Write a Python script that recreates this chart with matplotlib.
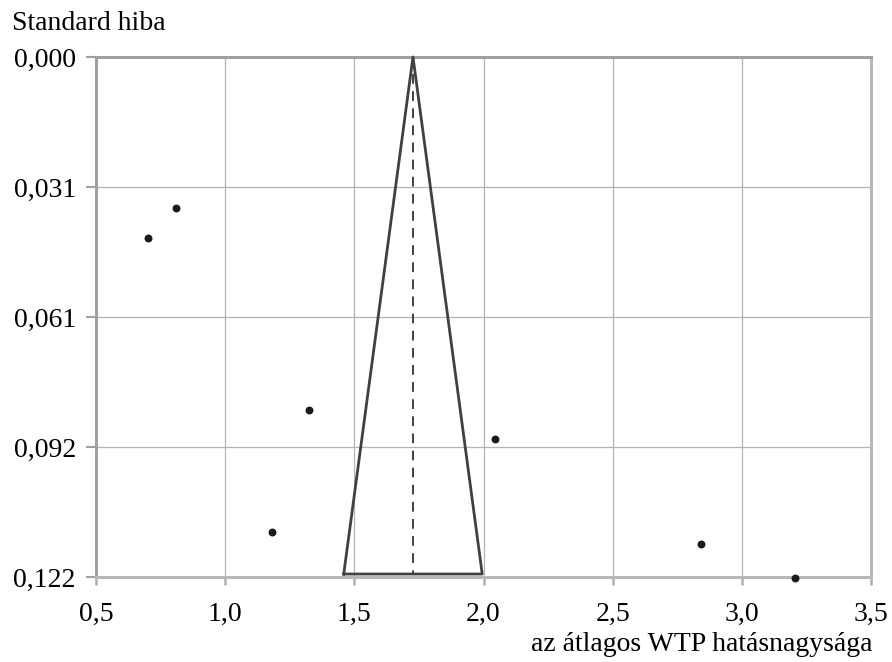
import numpy as np
import matplotlib.pyplot as plt

plt.rcParams['font.family'] = ['Liberation Serif', 'DejaVu Serif']

# study effect sizes (mean WTP) and their standard errors
effect = [0.701, 0.809, 1.183, 1.324, 2.044, 2.840, 3.205]
std_err = [0.0425, 0.0354, 0.1117, 0.0830, 0.0898, 0.1145, 0.1225]

pooled = 1.727
funnel_half = 0.268
funnel_se = 0.1216

x_ticks = [0.5, 1.0, 1.5, 2.0, 2.5, 3.0, 3.5]
x_labels = ["0,5", "1,0", "1,5", "2,0", "2,5", "3,0", "3,5"]
y_ticks = [0.0, 0.030575, 0.06115, 0.091725, 0.1223]
y_labels = ["0,000", "0,031", "0,061", "0,092", "0,122"]

fig = plt.figure(figsize=(8.92, 6.62), dpi=100)
ax = fig.add_axes([0.1076, 0.1284, 0.8689, 0.7855])

ax.set_xlim(0.5, 3.5)
ax.set_ylim(0.1223, 0.0)

ax.grid(True, color="#b4b4b4", linewidth=0.9)
ax.set_axisbelow(True)

# funnel (triangle) and pooled estimate
ax.plot([pooled - funnel_half, pooled, pooled + funnel_half, pooled - funnel_half],
        [funnel_se, 0.0, funnel_se, funnel_se],
        color="#404040", linewidth=2.0, clip_on=False, zorder=3)
ax.plot([pooled, pooled], [0.0, funnel_se], color="#404040",
        linewidth=1.4, linestyle=(0, (5, 3.8)), zorder=3)

ax.scatter(effect, std_err, s=22, color="#1a1a1a", zorder=4, clip_on=False)

ax.set_xticks(x_ticks)
ax.set_xticklabels(x_labels)
ax.set_yticks(y_ticks)
ax.set_yticklabels(y_labels)

for side in ["left", "top"]:
    ax.spines[side].set_color("#a0a0a0")
    ax.spines[side].set_linewidth(2.2)
for side in ["right", "bottom"]:
    ax.spines[side].set_color("#b8b8b8")
    ax.spines[side].set_linewidth(2.2)

ax.tick_params(axis="x", length=6, width=1.8, color="#b0b0b0",
               labelsize=20, pad=12)
ax.tick_params(axis="y", length=7, width=1.5, color="#a0a0a0",
               labelsize=20, pad=7.5)

fig.text(0.013, 0.955, "Standard hiba", fontsize=20, ha="left", va="baseline")
fig.text(0.978, 0.016, "az átlagos WTP hatásnagysága", fontsize=20,
         ha="right", va="baseline")

fig.savefig("out.png", dpi=100)
